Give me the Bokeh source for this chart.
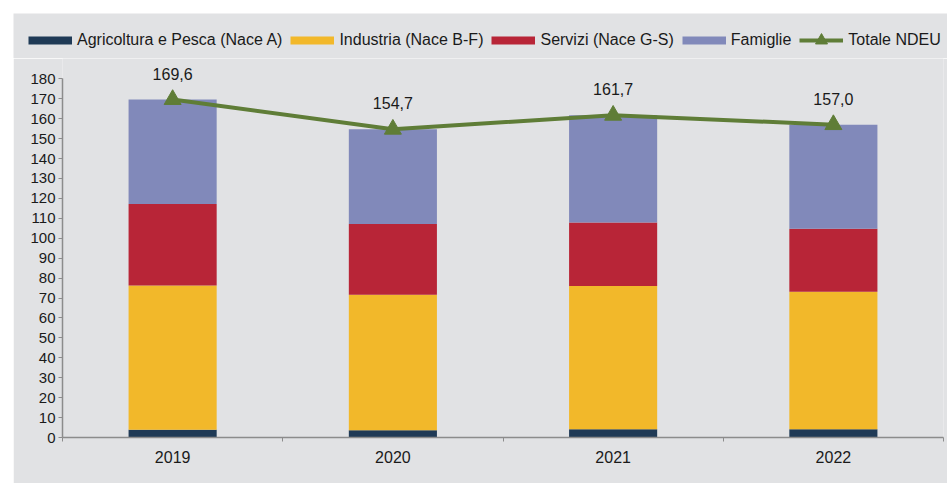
from bokeh.plotting import figure
from bokeh.models import Range1d, FixedTicker, Legend, LegendItem, ColumnDataSource, Spacer
from bokeh.layouts import column, row
from bokeh.core.properties import value
from bokeh.embed import file_html
from bokeh.resources import INLINE

years = ["2019", "2020", "2021", "2022"]
agricoltura = [3.9, 3.7, 4.2, 4.2]
industria = [72.4, 68.0, 71.8, 69.0]
servizi = [40.9, 35.5, 31.9, 31.6]
famiglie = [52.4, 47.5, 53.8, 52.2]
totale = [169.6, 154.7, 161.7, 157.0]
totale_labels = ["169,6", "154,7", "161,7", "157,0"]
y_ticks = list(range(0, 181, 10))

series = ["agricoltura", "industria", "servizi", "famiglie"]
names = ["Agricoltura e Pesca (Nace A)", "Industria (Nace B-F)", "Servizi (Nace G-S)", "Famiglie"]
colors = ["#1f3a56", "#f2b82a", "#b82537", "#8189ba"]
green = "#5f7d37"
bg = "#e1e2e4"
font = "Liberation Sans"
txt = "#1a1a1a"
axis_col = "#8c8c8c"

xpos = [i + 0.5 for i in range(len(years))]
src = ColumnDataSource(dict(x=xpos, agricoltura=agricoltura, industria=industria,
                            servizi=servizi, famiglie=famiglie, totale=totale,
                            lab=totale_labels))

# ---- main chart
p = figure(width=934, height=425, output_backend="svg", toolbar_location=None,
           x_range=Range1d(0, len(years)), y_range=Range1d(0, 190.2),
           min_border_left=49, min_border_right=4, min_border_top=0, min_border_bottom=46)
p.background_fill_color = bg
p.border_fill_color = bg
p.outline_line_color = None
p.xgrid.visible = False
p.ygrid.visible = False

p.vbar_stack(series, x="x", width=0.4, source=src, color=colors, line_width=0)

p.line(x="x", y="totale", source=src, line_color=green, line_width=4)
p.scatter(x="x", y="totale", source=src, marker="triangle", size=17,
          fill_color=green, line_color=green)
p.text(x="x", y="totale", text="lab", source=src, text_align="center",
       text_baseline="middle", y_offset=-26, text_font=value(font),
       text_font_size="16px", text_color=txt)

xa = p.xaxis[0]
xa.ticker = FixedTicker(ticks=xpos, minor_ticks=list(range(len(years) + 1)))
xa.major_label_overrides = {x: y for x, y in zip(xpos, years)}
xa.major_tick_out = 0
xa.major_tick_in = 0
xa.minor_tick_out = 4
xa.minor_tick_in = 0
xa.minor_tick_line_color = axis_col
xa.axis_line_color = axis_col
xa.axis_line_width = 1.5
xa.major_label_standoff = 9
xa.major_label_text_font = font
xa.major_label_text_font_size = "16px"
xa.major_label_text_color = txt

ya = p.yaxis[0]
ya.ticker = FixedTicker(ticks=y_ticks)
ya.bounds = (0, 180)
ya.major_tick_out = 4
ya.major_tick_in = 0
ya.minor_tick_line_color = None
ya.major_tick_line_color = axis_col
ya.axis_line_color = axis_col
ya.axis_line_width = 1.5
ya.major_label_standoff = 3
ya.major_label_text_font = font
ya.major_label_text_font_size = "15px"
ya.major_label_text_color = txt

# ---- legend strip (its ranges keep the key renderers out of view)
lf = figure(width=934, height=45, output_backend="svg", toolbar_location=None,
            x_range=Range1d(1000, 1001), y_range=Range1d(1000, 1001),
            min_border=0, x_axis_location=None, y_axis_location=None)
lf.background_fill_color = bg
lf.border_fill_color = bg
lf.outline_line_color = None
lf.xgrid.visible = False
lf.ygrid.visible = False

items = []
for s, n, c in zip(series, names, colors):
    r = lf.line(x="x", y=s, source=src, line_color=c, line_width=8)
    items.append(LegendItem(label=n, renderers=[r]))
rl = lf.line(x="x", y="totale", source=src, line_color=green, line_width=4)
rs = lf.scatter(x="x", y="totale", source=src, marker="triangle",
                fill_color=green, line_color=green)
items.append(LegendItem(label="Totale NDEU", renderers=[rl, rs]))

leg = Legend(items=items, orientation="horizontal", location=(15, 3),
             padding=0, margin=0, spacing=8, label_standoff=5,
             glyph_width=44, glyph_height=30, border_line_color=None,
             background_fill_alpha=0, label_text_font=font,
             label_text_font_size="16px", label_text_color=txt)
lf.add_layout(leg, "center")

layout = column(Spacer(width=947, height=13),
                row(Spacer(width=13, height=45), lf, spacing=0),
                row(Spacer(width=13, height=425), p, spacing=0),
                spacing=0)
open("out.html", "w").write(file_html(layout, INLINE))
